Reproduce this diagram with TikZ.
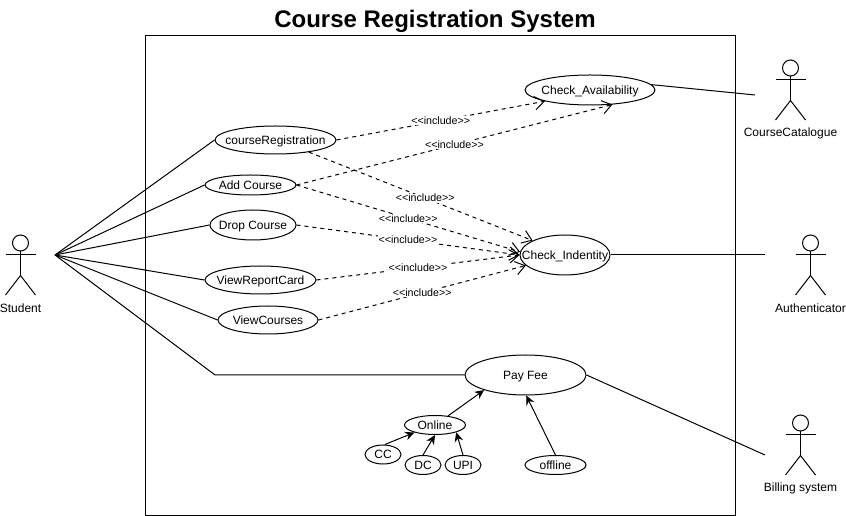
\documentclass[tikz,border=0pt]{standalone}
\usepackage{fontspec}
\setmainfont{Liberation Sans}
\usetikzlibrary{shapes.geometric,arrows.meta}
\tikzset{
  ucase/.style n args={2}{ellipse,draw,line width=0.75pt,inner sep=0pt,minimum width=#1*0.75pt,minimum height=#2*0.75pt,font=\fontsize{9}{11}\selectfont},
  actorlabel/.style={inner sep=0pt,font=\fontsize{9}{11}\selectfont},
  solidlink/.style={line width=0.75pt},
  inc/.style={line width=0.75pt,dashed,dash pattern=on 3pt off 3pt,-{Straight Barb[length=7pt,width=10pt]}},
  lab/.style={fill=white,inner sep=0.5pt,font=\fontsize{8}{9}\selectfont},
  gen/.style={line width=0.75pt,-{Stealth[length=7pt,width=6.5pt]}}
}
\newcommand{\incl}{<{}<{}include>{}>}
\newcommand{\ut}[1]{\makebox[0pt]{\raisebox{-3.2pt}[0pt][0pt]{#1}}}
\newcommand{\actorfig}[4]{%
  \node[circle,draw,line width=0.75pt,inner sep=0pt,minimum size=12pt] (#1) at (#2,#3) {};
  \draw[line width=0.75pt] (#1.south) -- ++(0,24) coordinate (#1hip);
  \draw[line width=0.75pt] ([shift={(-15,12)}]#1.center) -- ([shift={(15,12)}]#1.center);
  \draw[line width=0.75pt] ([shift={(-15,52)}]#1.center) -- (#1hip) -- ([shift={(15,52)}]#1.center);
  \node[actorlabel] (#1label) at (#2,#3+65) {#4};
}
\begin{document}
\begin{tikzpicture}[x=0.75pt,y=-0.75pt]
\useasboundingbox[fill=white] (0,0) rectangle (846,516);
\node[font=\bfseries\fontsize{18}{22}\selectfont,inner sep=0pt] (title) at (435,21) {Course Registration System};
\node[draw,line width=0.75pt,minimum width=442.5pt,minimum height=359.25pt,inner sep=0pt] (system) at (440,275.5) {};

\node[ucase={121}{28}] (cr) at (275.5,140) {\ut{courseRegistration}};
\node[ucase={91}{20}] (add) at (250.5,185) {\ut{Add Course}};
\node[ucase={86}{30}] (drop) at (253,225) {\ut{Drop Course}};
\node[ucase={111}{28}] (vrc) at (260.5,280) {\ut{ViewReportCard}};
\node[ucase={100}{28}] (vc) at (268,320) {\ut{ViewCourses}};
\node[ucase={130}{30}] (ca) at (590,90) {\ut{Check\_Availability}};
\node[ucase={90}{40}] (ci) at (565,255) {\ut{Check\_Indentity}};
\node[ucase={121}{40}] (pf) at (525.5,375) {\ut{Pay Fee}};
\node[ucase={61}{19}] (on) at (435,425) {\ut{Online}};
\node[ucase={36}{19}] (ccn) at (383,454.5) {\ut{CC}};
\node[ucase={36}{19}] (dc) at (423,465) {\ut{DC}};
\node[ucase={36}{19}] (upi) at (463,465) {\ut{UPI}};
\node[ucase={61}{19}] (off) at (555.5,465) {\ut{offline}};

\actorfig{student}{20.5}{243}{Student}
\actorfig{catalogue}{790.5}{68}{CourseCatalogue}
\actorfig{auth}{810.5}{243}{Authenticator}
\actorfig{bill}{800.5}{423}{Billing system}

\coordinate (hub) at (55,255);
\coordinate (bend) at (215,375);
\coordinate (catend) at (755,95);
\coordinate (authend) at (765,255);
\coordinate (billend) at (765,455);

\draw[solidlink] (hub) -- (cr.west);
\draw[solidlink] (hub) -- (add.west);
\draw[solidlink] (hub) -- (drop.west);
\draw[solidlink] (hub) -- (vrc.west);
\draw[solidlink] (hub) -- (vc.west);
\draw[solidlink] (hub) -- (bend) -- (pf.west);
\draw[solidlink] (ca.5) -- (catend);
\draw[solidlink] (ci.east) -- (authend);
\draw[solidlink] (pf.east) -- (billend);

\draw[inc] (cr.east) -- node[lab]{\incl} (ca.194);
\draw[inc] (add.east) -- node[lab]{\incl} (ca.327);
\draw[inc] (cr.340) -- node[lab,pos=.52]{\incl} (ci.156);
\draw[inc] (add.east) -- node[lab]{\incl} (ci.176);
\draw[inc] (drop.east) -- node[lab]{\incl} (ci.west);
\draw[inc] (vrc.east) -- node[lab]{\incl} (ci.west);
\draw[inc] (vc.east) -- node[lab]{\incl} (ci.195);

\draw[gen] (on.35) -- (pf.200);
\draw[gen] (off.north) -- (pf.272);
\draw[gen] (ccn.80) -- (on.200);
\draw[gen] (dc.north) -- (on.south);
\draw[gen] (upi.north) -- (on.341);
\end{tikzpicture}
\end{document}
